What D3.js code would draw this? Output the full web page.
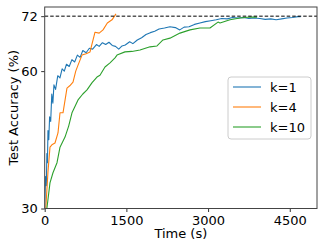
<!DOCTYPE html>
<html>
<head>
<meta charset="utf-8">
<script src="https://cdn.jsdelivr.net/npm/d3@7"></script>
<style>
  body { margin: 0; background: #fff; }
  svg { display: block; font-family: "DejaVu Sans", sans-serif; }
</style>
</head>
<body>
<svg id="chart" width="325" height="250"></svg>
<script>
// --- data (time in s, accuracy in %) ---
const k1 = [
  [0, 30], [15, 37], [30, 35], [40, 42], [50, 40], [60, 47], [75, 45], [90, 50], [110, 49], [130, 55], [150, 53],
  [170, 57], [200, 56], [240, 59], [280, 58.5], [320, 60.5], [360, 60], [400, 61.5], [450, 61],
  [500, 62.5], [550, 62], [600, 63.5], [650, 63], [700, 64.5], [760, 64], [820, 65], [880, 64.8],
  [950, 65.8], [1000, 65.4], [1060, 66.2], [1120, 65.8], [1180, 66.3], [1240, 65.6], [1300, 65.4],
  [1360, 64.8], [1420, 65.5], [1480, 65.7], [1560, 66.4], [1620, 66], [1700, 66.8], [1780, 67.3],
  [1860, 68], [1940, 68.4], [2020, 68.7], [2100, 69.2], [2200, 69.4], [2300, 69.7], [2400, 69.5],
  [2480, 69.0], [2560, 69.6], [2650, 69.7], [2750, 70.2], [2850, 70.5], [2950, 70.8], [3050, 71.0],
  [3150, 71.2], [3250, 71.5], [3350, 71.4], [3450, 71.7], [3550, 71.6], [3650, 71.7], [3750, 71.5],
  [3850, 71.6], [3950, 71.5], [4050, 71.3], [4150, 71.4], [4250, 71.2], [4350, 71.4], [4450, 71.6],
  [4550, 71.7], [4650, 71.9], [4700, 71.9]
];
const k4 = [
  [20, 30], [60, 38], [97, 43.4], [140, 44], [189, 44.3], [244, 46.5], [281, 50.9], [336, 50.9],
  [409, 56.3], [460, 56.8], [520, 57.6], [570, 60], [612, 61.3], [685, 63.5], [760, 63.8],
  [832, 64.2], [924, 68.5], [1000, 68.3], [1071, 69.0], [1150, 70.5], [1236, 71.2], [1309, 72.5]
];
const k10 = [
  [40, 30], [97, 35.6], [152, 37.8], [226, 40], [281, 43.4], [373, 45.6], [440, 48], [501, 50.9],
  [612, 53.7], [700, 55], [777, 55.9], [870, 57.5], [960, 58.7], [1015, 59.1], [1107, 60.9],
  [1199, 61.8], [1291, 62.9], [1328, 63.5], [1474, 64.2], [1600, 64.3], [1750, 64.6], [1934, 65.3],
  [2062, 65.5], [2172, 66.8], [2300, 67.2], [2484, 68.3], [2668, 69.0], [2851, 69.4], [3035, 69.4],
  [3182, 70.7], [3219, 70.5], [3402, 71.2], [3586, 71.6], [3770, 71.8], [3898, 71.8]
];
const series = [
  { name: "k=1", color: "#1f77b4", values: k1 },
  { name: "k=4", color: "#ff7f0e", values: k4 },
  { name: "k=10", color: "#2ca02c", values: k10 }
];
const xTicks = [0, 1500, 3000, 4500];
const yTicks = [30, 60, 72];
const target = 72;

const svg = d3.select("#chart");
const m = { left: 44.7, right: 317, top: 7, bottom: 208.5 };

const x = d3.scaleLinear().domain([0, 5000]).range([m.left, m.right]);
const y = d3.scaleLinear().domain([30, 74]).range([m.bottom, m.top]);

// clip so lines stay in the frame
svg.append("clipPath").attr("id", "clip").append("rect")
  .attr("x", m.left).attr("y", m.top).attr("width", m.right - m.left).attr("height", m.bottom - m.top);

const line = d3.line().x(d => x(d[0])).y(d => y(d[1]));
const plot = svg.append("g").attr("clip-path", "url(#clip)");

for (const s of series) {
  plot.append("path").datum(s.values)
    .attr("d", line).attr("fill", "none")
    .attr("stroke", s.color).attr("stroke-width", 1.1).attr("stroke-linejoin", "round");
}

// dashed target line
plot.append("line")
  .attr("x1", m.left).attr("x2", m.right).attr("y1", y(target)).attr("y2", y(target))
  .attr("stroke", "#000").attr("stroke-width", 1).attr("stroke-dasharray", "3.5,2");

// axes
const xAxis = svg.append("g").attr("transform", `translate(0,${m.bottom})`)
  .call(d3.axisBottom(x).tickValues(xTicks).tickFormat(d3.format("d")).tickSize(3.5).tickPadding(3.5));
const yAxis = svg.append("g").attr("transform", `translate(${m.left},0)`)
  .call(d3.axisLeft(y).tickValues(yTicks).tickFormat(d3.format("d")).tickSize(3.5).tickPadding(3.5));
for (const a of [xAxis, yAxis]) {
  a.select(".domain").remove();
  a.selectAll("line").attr("stroke", "#333");
  a.selectAll("text").attr("font-size", 13).attr("fill", "#000")
    .attr("font-family", "DejaVu Sans, sans-serif");
}

// frame
svg.append("rect")
  .attr("x", m.left).attr("y", m.top).attr("width", m.right - m.left).attr("height", m.bottom - m.top)
  .attr("fill", "none").attr("stroke", "#444").attr("stroke-width", 1);

// axis labels
svg.append("text").attr("x", (m.left + m.right) / 2).attr("y", 238)
  .attr("text-anchor", "middle").attr("font-size", 13).text("Time (s)");
svg.append("text").attr("transform", `translate(18,${(m.top + m.bottom) / 2}) rotate(-90)`)
  .attr("text-anchor", "middle").attr("font-size", 13).text("Test Accuracy (%)");

// legend
const lg = svg.append("g").attr("transform", "translate(228,77)");
lg.append("rect").attr("width", 83).attr("height", 62).attr("rx", 3)
  .attr("fill", "#fff").attr("fill-opacity", 0.8).attr("stroke", "#ccc");
series.forEach((s, i) => {
  const yy = 10 + i * 20;
  lg.append("line").attr("x1", 5).attr("x2", 33).attr("y1", yy).attr("y2", yy)
    .attr("stroke", s.color).attr("stroke-width", 1.1);
  lg.append("text").attr("x", 42).attr("y", yy).attr("dy", "0.35em")
    .attr("font-size", 13).text(s.name);
});
</script>
</body>
</html>
